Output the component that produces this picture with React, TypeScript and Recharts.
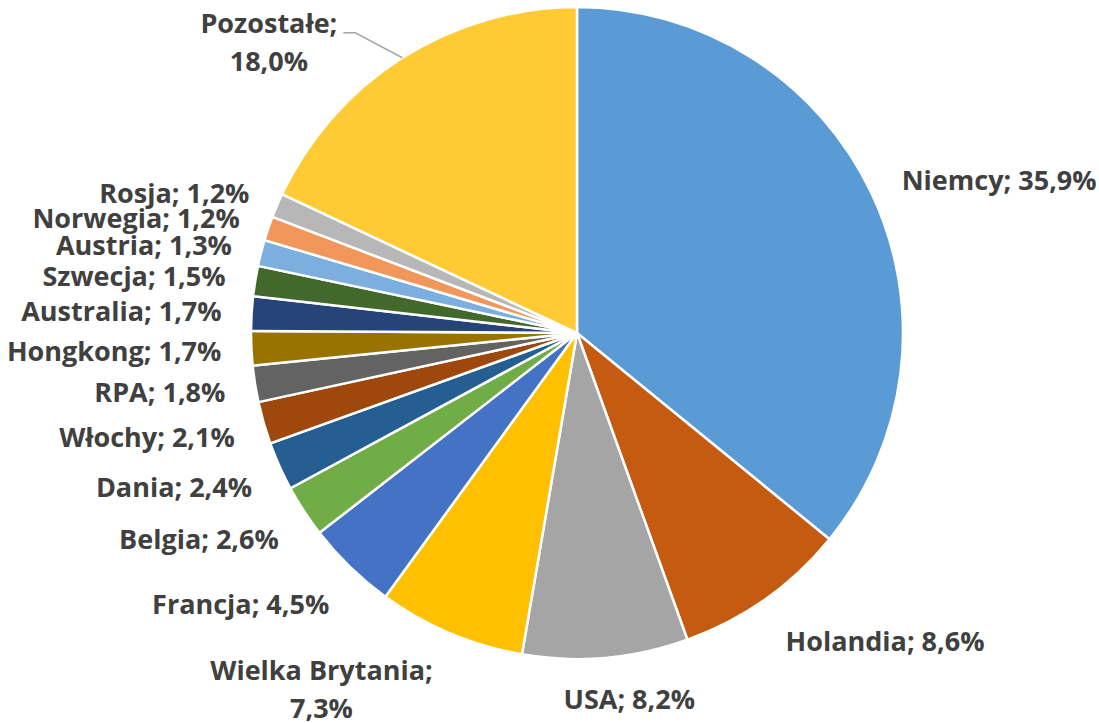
import { PieChart, Pie, Cell } from "recharts";

// Udział krajów w eksporcie (%)
const countries = [
  "Niemcy",
  "Holandia",
  "USA",
  "Wielka Brytania",
  "Francja",
  "Belgia",
  "Dania",
  "Włochy",
  "RPA",
  "Hongkong",
  "Australia",
  "Szwecja",
  "Austria",
  "Norwegia",
  "Rosja",
  "Pozostałe",
];
const shares = [35.9, 8.6, 8.2, 7.3, 4.5, 2.6, 2.4, 2.1, 1.8, 1.7, 1.7, 1.5, 1.3, 1.2, 1.2, 18.0];
const colors = [
  "#5B9BD5", "#C55A11", "#A5A5A5", "#FFC000", "#4472C4", "#70AD47",
  "#255E91", "#9E480E", "#636363", "#997300", "#264478", "#43682B",
  "#7CAFDD", "#F1975A", "#B7B7B7", "#FFCA33",
];
// labels that Excel wrapped onto two lines
const wrapped = ["Wielka Brytania", "Pozostałe"];

const data = countries.map((name, i) => ({ name, value: shares[i] }));

const FONT = "'Open Sans', sans-serif";
const FONT_SIZE = 27;
const LINE_H = 38;
const TEXT_COLOR = "#404040";
const RADIAN = Math.PI / 180;

let ctx: CanvasRenderingContext2D | null = null;
function textWidth(s: string) {
  if (!ctx) ctx = document.createElement("canvas").getContext("2d");
  if (!ctx) return s.length * FONT_SIZE * 0.55;
  ctx.font = `700 ${FONT_SIZE}px 'Open Sans'`;
  return ctx.measureText(s).width;
}

const fmt = (v: number) => v.toFixed(1).replace(".", ",") + "%";

function renderLabel(props: any) {
  const { cx, cy, midAngle, outerRadius, index } = props;
  const name = countries[index];
  const pct = fmt(shares[index]);
  const dx = Math.cos(-midAngle * RADIAN);
  const dy = Math.sin(-midAngle * RADIAN);
  const textProps = {
    fill: TEXT_COLOR,
    fontFamily: FONT,
    fontSize: FONT_SIZE,
    fontWeight: 700,
    dy: "0.36em",
  };

  if (name === "Pozostałe") {
    // pushed aside with a leader line
    const ex = cx + outerRadius * dx;
    const ey = cy + outerRadius * dy;
    const kx = ex - 47;
    const ky = ey - 25;
    const lx = kx - 12;
    const right = lx - 6;
    const c = right - textWidth(name + ";") / 2;
    return (
      <g key={`lbl-${index}`}>
        <polyline
          points={`${ex},${ey} ${kx},${ky} ${lx},${ky}`}
          fill="none"
          stroke="#A6A6A6"
          strokeWidth={1.5}
        />
        <text {...textProps} x={c} y={ky - 9} textAnchor="middle">{name + ";"}</text>
        <text {...textProps} x={c} y={ky - 9 + LINE_H} textAnchor="middle">{pct}</text>
      </g>
    );
  }

  const r = outerRadius + 30;
  const px = cx + r * dx;
  const py = cy + r * dy;

  if (wrapped.includes(name)) {
    const l1 = name + ";";
    const w = Math.max(textWidth(l1), textWidth(pct));
    const c = dx < 0 ? px - 6 - w / 2 : px + 6 + w / 2;
    const yc = py + dy * LINE_H * 0.8;
    return (
      <g key={`lbl-${index}`}>
        <text {...textProps} x={c} y={yc - LINE_H / 2} textAnchor="middle">{l1}</text>
        <text {...textProps} x={c} y={yc + LINE_H / 2} textAnchor="middle">{pct}</text>
      </g>
    );
  }

  const label = `${name}; ${pct}`;
  if (Math.abs(dx) < 0.25) {
    return (
      <text key={`lbl-${index}`} {...textProps} x={px + 21} y={py + dy * 12} textAnchor="middle">
        {label}
      </text>
    );
  }
  return (
    <text
      key={`lbl-${index}`}
      {...textProps}
      x={dx > 0 ? px + 3 : px}
      y={py + Math.max(0, dy) * 22}
      textAnchor={dx > 0 ? "start" : "end"}
    >
      {label}
    </text>
  );
}

export default function App() {
  return (
    <div style={{ position: "absolute", left: 0, top: 0, background: "#fff" }}>
      <PieChart width={1099} height={723} margin={{ top: 0, right: 0, bottom: 0, left: 0 }}>
        <Pie
          data={data}
          dataKey="value"
          nameKey="name"
          cx={577}
          cy={333}
          outerRadius={326}
          startAngle={90}
          endAngle={-270}
          stroke="#FFFFFF"
          strokeWidth={2.5}
          label={renderLabel}
          labelLine={false}
          isAnimationActive={false}
        >
          {data.map((d, i) => (
            <Cell key={d.name} fill={colors[i]} />
          ))}
        </Pie>
      </PieChart>
    </div>
  );
}
